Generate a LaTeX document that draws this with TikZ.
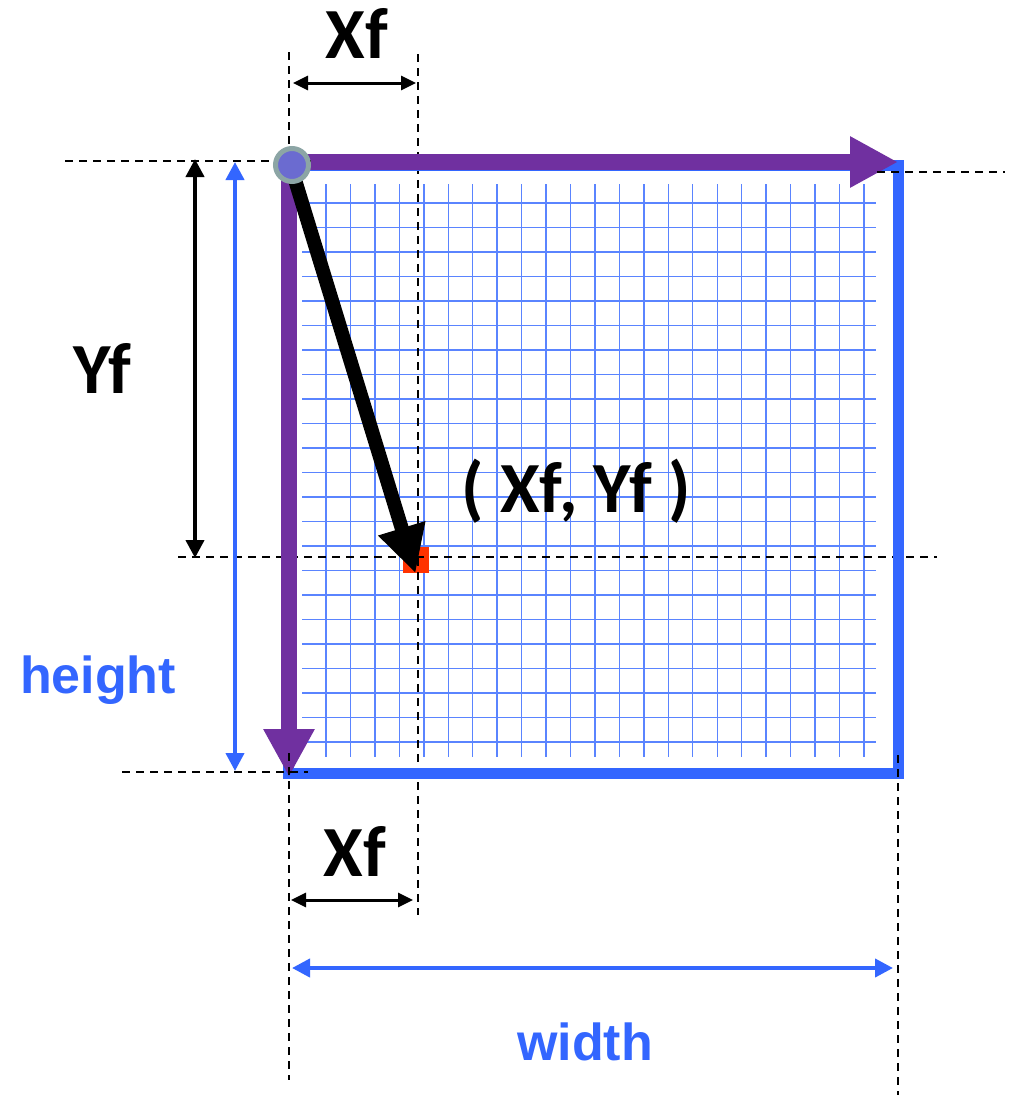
\documentclass[tikz,border=0pt]{standalone}
\usepackage{fontspec}
\usetikzlibrary{arrows.meta}
\newfontfamily\lblfont{Carlito}
\newfontfamily\dimfont{Liberation Sans}
\definecolor{framepurple}{HTML}{7030A0}
\definecolor{frameblue}{HTML}{3366FF}
\definecolor{gridblue}{HTML}{5A84FF}
\definecolor{pixred}{HTML}{FF3300}
\definecolor{dotfill}{HTML}{6B6BD0}
\definecolor{dotring}{HTML}{8CA5A5}
\begin{document}
\begin{tikzpicture}[x=1pt, y=-1pt,
  guide/.style={black, line width=1.6pt, dash pattern=on 8pt off 6pt},
  gridline/.style={gridblue, line width=1.4pt},
  dimarrow/.style={line width=4pt, {Triangle[length=18pt,width=18pt]}-{Triangle[length=18pt,width=18pt]}},
  smallarrow/.style={line width=3pt, {Triangle[length=15pt,width=14pt]}-{Triangle[length=15pt,width=14pt]}},
  axisarrow/.style={framepurple, line width=16pt, -{Triangle[length=48pt,width=48pt]}},
  blacklbl/.style={font=\lblfont\bfseries\fontsize{72}{80}\selectfont, anchor=base, inner sep=0pt},
  bluelbl/.style={text=frameblue, font=\dimfont\bfseries\fontsize{52}{60}\selectfont, anchor=base, inner sep=0pt}]
  \fill[white] (0,0) rectangle (1012,1095);
  \useasboundingbox (0,0) rectangle (1012,1095);

  % pixel grid
  \foreach \i in {0,...,22}
    \draw[gridline] ({326+24.45*\i},184) -- ({326+24.45*\i},757);
  \foreach \j in {0,...,22}
    \draw[gridline] (302,{203+24.5*\j}) -- (876,{203+24.5*\j});

  % the sample pixel
  \node[fill=pixred, minimum size=26pt, inner sep=0pt] (pixel) at (415.5,560) {};

  % guides under the frame
  \draw[guide] (418,54) -- (418,915);
  \draw[guide] (178,557) -- (937,557);

  % image frame and axes
  \draw[frameblue, line width=11pt] (288,165) rectangle (898,773);
  \coordinate (origin) at (289,162);
  \coordinate (xaxis) at (898,162);
  \coordinate (yaxis) at (289,777);
  \draw[axisarrow] (origin) -- (xaxis);
  \draw[axisarrow] (origin) -- (yaxis);

  % guides over the frame
  \draw[guide] (289,52) -- (289,150);
  \draw[guide] (289,753) -- (289,1080);
  \draw[guide] (65,161) -- (313,161);
  \draw[guide] (877,172) -- (1005,172);
  \draw[guide] (122,772) -- (308,772);
  \draw[guide] (898,755) -- (898,1095);

  % pointer to the pixel
  \draw[line width=14pt, -{Triangle[length=47pt,width=46pt]}] (292,170) -- (pixel.south);
  \node[circle, fill=dotfill, draw=dotring, line width=5pt, minimum size=33pt, inner sep=0pt] (dot) at (292,165) {};

  % dimensions
  \coordinate (xfa) at (293,83);
  \coordinate (xfb) at (416,83);
  \draw[smallarrow] (xfa) -- (xfb);
  \coordinate (xfc) at (291,900);
  \coordinate (xfd) at (413,900);
  \draw[smallarrow] (xfc) -- (xfd);
  \coordinate (yfa) at (195,159);
  \coordinate (yfb) at (195,558);
  \draw[dimarrow] (yfa) -- (yfb);
  \coordinate (ha) at (235,162);
  \coordinate (hb) at (235,771);
  \draw[dimarrow, frameblue] (ha) -- (hb);
  \coordinate (wa) at (292,968);
  \coordinate (wb) at (893,968);
  \draw[dimarrow, frameblue] (wa) -- (wb);

  % labels
  \node[blacklbl] (xf top) at (357,58) {Xf};
  \node[blacklbl] (xf bottom) at (355,876) {Xf};
  \node[blacklbl] (yf) at (102,393) {Yf};
  \node[blacklbl] (point) at (576,512) {( Xf, Yf )};
  \node[bluelbl] (height) at (98,693) {height};
  \node[bluelbl] (width) at (585,1060) {width};
\end{tikzpicture}
\end{document}
